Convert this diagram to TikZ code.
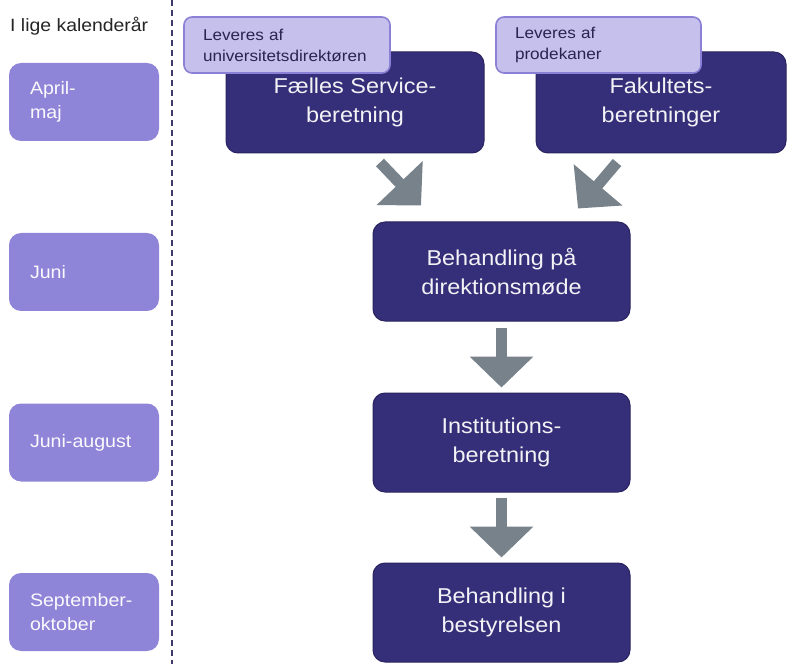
\documentclass[tikz,border=0pt]{standalone}
\usepackage{fontspec}
\setmainfont{Liberation Sans}[FakeStretch=1.09]
\usetikzlibrary{arrows.meta}
\definecolor{darkbox}{HTML}{352E78}
\definecolor{darkedge}{HTML}{2A2460}
\definecolor{lightbox}{HTML}{8E85D8}
\definecolor{labelfill}{HTML}{C6C1EC}
\definecolor{labeledge}{HTML}{8A80D6}
\definecolor{arrowgrey}{HTML}{78828B}
\definecolor{dashcol}{HTML}{3E3A6A}
\definecolor{labeltext}{HTML}{2A2550}
\tikzset{
  darkstep/.style={rectangle, rounded corners=12pt, fill=darkbox, draw=darkedge, line width=1pt,
    text=white!94!darkbox, align=center, inner sep=0pt,
    font=\fontsize{21.5}{28.5}\selectfont},
  monthbox/.style={rectangle, rounded corners=12pt, fill=lightbox, draw=none,
    text=white!96!lightbox, align=left, inner xsep=21pt, inner ysep=0pt,
    text width=108pt, minimum height=78pt,
    font=\fontsize{18}{23.5}\selectfont},
  deliverbox/.style={rectangle, rounded corners=8pt, fill=labelfill, draw=labeledge, line width=1.6pt,
    text=labeltext, align=left, inner xsep=19pt, inner ysep=0pt,
    minimum height=56pt, font=\fontsize{15.7}{21}\selectfont},
  blockarrow/.style={draw=arrowgrey, line width=11pt,
    -{Triangle[width=62pt,length=31pt]}, arrowgrey},
}
\begin{document}
\begin{tikzpicture}[x=1pt,y=-1pt]
\useasboundingbox (0,0) rectangle (787,668);
\fill[white] (0,0) rectangle (787,668);

% heading and separator
\node[anchor=base west, inner sep=0pt, text=black!85, font=\fontsize{17.8}{22}\selectfont] (head) at (10,32) {I lige kalenderår};
\coordinate (dtop) at (172,0);
\coordinate (dbot) at (172,664);
\draw[dashcol, line width=1.4pt, dash pattern=on 6pt off 4pt] (dtop) -- (dbot);

% month boxes
\node[monthbox] (m1) at (84,102) {April-\\maj};
\node[monthbox] (m2) at (84,272) {Juni};
\node[monthbox] (m3) at (84,442.5) {Juni-august};
\node[monthbox] (m4) at (84,612) {September-\\oktober};

% process boxes
\node[darkstep, minimum width=258pt, minimum height=101pt] (fs) at (355,102.5) {Fælles Service-\\beretning};
\node[darkstep, minimum width=250pt, minimum height=101pt] (fak) at (661,102.5) {Fakultets-\\beretninger};
\node[darkstep, minimum width=257pt, minimum height=99pt] (beh) at (501.5,271.5) {Behandling på\\direktionsmøde};
\node[darkstep, minimum width=257pt, minimum height=99pt] (inst) at (501.5,442.5) {Institutions-\\beretning};
\node[darkstep, minimum width=257pt, minimum height=99pt] (best) at (501.5,612.5) {Behandling i\\bestyrelsen};

% delivered-by labels
\node[deliverbox, text width=168pt] (l1) at (287,45) {Leveres af\\universitetsdirektøren};
\node[deliverbox, text width=167pt] (l2) at (598.5,45) {Leveres af\\prodekaner};

% arrows
\draw[blockarrow] ([xshift=25pt,yshift=-9pt]fs.south) -- ([xshift=-80.5pt,yshift=16pt]beh.north);
\draw[blockarrow] ([xshift=-44pt,yshift=-9pt]fak.south) -- ([xshift=76.5pt,yshift=13pt]beh.north);
\draw[blockarrow] ([yshift=-6pt]beh.south) -- ([yshift=5pt]inst.north);
\draw[blockarrow] ([yshift=-5pt]inst.south) -- ([yshift=5pt]best.north);
\end{tikzpicture}
\end{document}
